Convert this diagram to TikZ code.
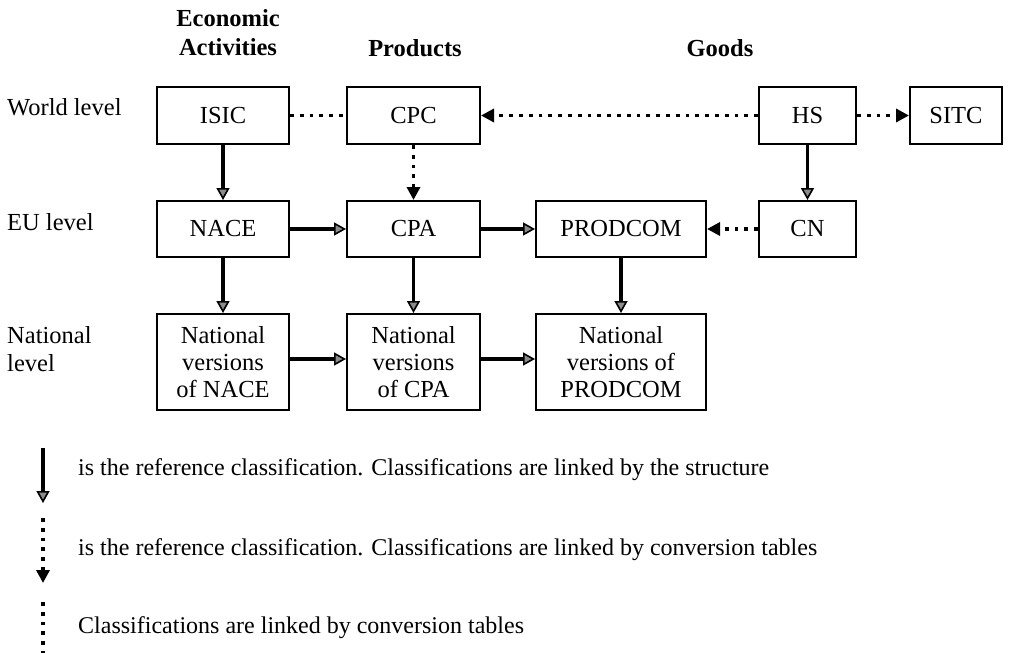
\documentclass[tikz,border=0pt]{standalone}
\usepackage{fontspec}
\setmainfont{Liberation Serif}
\usetikzlibrary{arrows.meta}
\begin{document}
\begin{tikzpicture}[x=1pt,y=-1pt,
  box/.style={draw,line width=2pt,inner sep=0pt,align=center,
    font=\fontsize{24.5}{27}\selectfont},
  rowlabel/.style={inner sep=0pt,align=left,anchor=west,
    font=\fontsize{24.5}{28}\selectfont},
  header/.style={inner sep=0pt,align=center,
    font=\fontsize{24.5}{29}\selectfont\bfseries},
  legendtext/.style={inner sep=0pt,anchor=west,
    font=\fontsize{24}{28}\selectfont},
  structlink/.style={line width=3.8pt,
    -{Triangle[length=12pt,width=13pt,line width=1.6pt,fill=black!45]}},
  tablelink/.style={line width=3.8pt,dash pattern=on 3.8pt off 6pt},
  tablearrow/.style={tablelink,-{Triangle[length=13pt,width=13pt]}}
]
\useasboundingbox (0,0) rectangle (1009,653);

% column headers
\node[header] (hEcon) at (228,33) {Economic\\Activities};
\node[header] (hProd) at (415,48) {Products};
\node[header] (hGoods) at (720,48) {Goods};

% row labels
\node[rowlabel] (rWorld) at (7,107) {World level};
\node[rowlabel] (rEU) at (7,222) {EU level};
\node[rowlabel] (rNat) at (7,349) {National\\level};

% world level
\node[box,minimum width=132pt,minimum height=57pt] (isic) at (223,115.5) {ISIC};
\node[box,minimum width=133pt,minimum height=57pt] (cpc) at (413.5,115.5) {CPC};
\node[box,minimum width=97pt,minimum height=57pt] (hs) at (807.5,115.5) {HS};
\node[box,minimum width=92pt,minimum height=57pt] (sitc) at (956,115.5) {SITC};

% EU level
\node[box,minimum width=132pt,minimum height=56pt] (nace) at (223,229) {NACE};
\node[box,minimum width=133pt,minimum height=56pt] (cpa) at (413.5,229) {CPA};
\node[box,minimum width=170pt,minimum height=56pt] (prodcom) at (621,229) {PRODCOM};
\node[box,minimum width=97pt,minimum height=56pt] (cn) at (807.5,229) {CN};

% national level
\node[box,minimum width=132pt,minimum height=96pt] (nnace) at (223,362) {National\\versions\\of NACE};
\node[box,minimum width=133pt,minimum height=96pt] (ncpa) at (413.5,362) {National\\versions\\of CPA};
\node[box,minimum width=170pt,minimum height=96pt] (nprodcom) at (621,362) {National\\versions of\\PRODCOM};

% links between classifications
\draw[tablelink] (isic) -- (cpc);
\draw[tablearrow] (hs) -- (cpc);
\draw[tablearrow] (hs) -- (sitc);
\draw[tablearrow] (cpc) -- (cpa);
\draw[tablearrow] (cn) -- (prodcom);
\draw[structlink] (isic) -- (nace);
\draw[structlink] (hs) -- (cn);
\draw[structlink] (nace) -- (cpa);
\draw[structlink] (cpa) -- (prodcom);
\draw[structlink] (nace) -- (nnace);
\draw[structlink] (cpa) -- (ncpa);
\draw[structlink] (prodcom) -- (nprodcom);
\draw[structlink] ([yshift=3pt]nnace.east) -- ([yshift=3pt]ncpa.west);
\draw[structlink] ([yshift=3pt]ncpa.east) -- ([yshift=3pt]nprodcom.west);

% legend
\coordinate (k1a) at (43,448);
\coordinate (k1b) at (43,503);
\coordinate (k2a) at (43,518);
\coordinate (k2b) at (43,583);
\coordinate (k3a) at (43,602);
\coordinate (k3b) at (43,656);
\draw[structlink] (k1a) -- (k1b);
\draw[tablearrow] (k2a) -- (k2b);
\draw[tablelink] (k3a) -- (k3b);
\node[legendtext] (t1) at (78,470) {is the reference classification. Classifications are linked by the structure};
\node[legendtext] (t2) at (78,550) {is the reference classification. Classifications are linked by conversion tables};
\node[legendtext] (t3) at (78,628) {Classifications are linked by conversion tables};
\end{tikzpicture}
\end{document}
